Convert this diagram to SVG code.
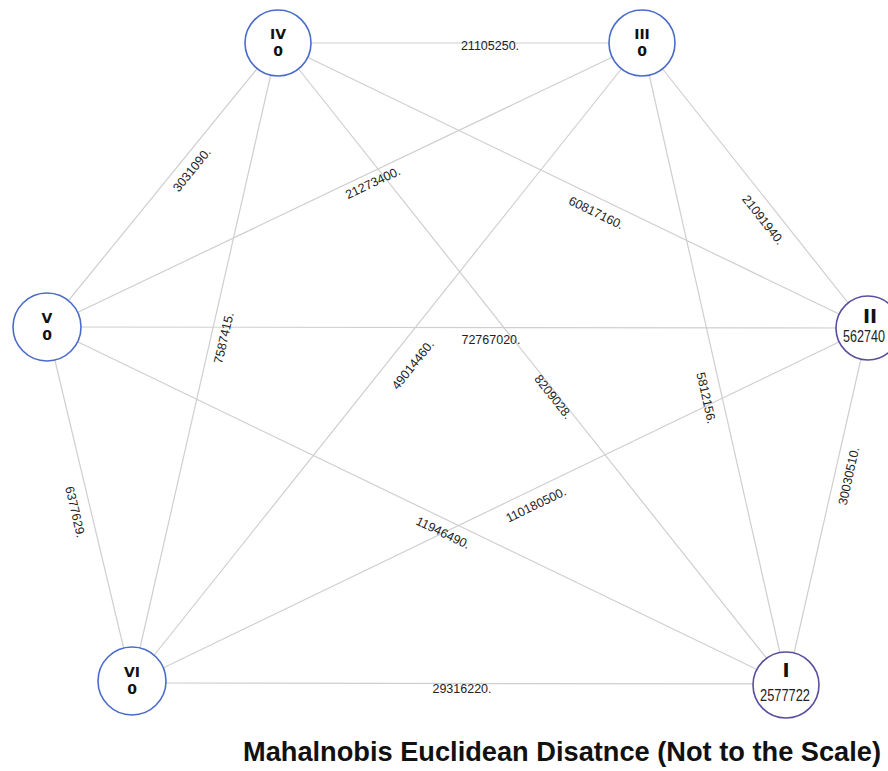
<svg xmlns="http://www.w3.org/2000/svg" width="888" height="771" viewBox="0 0 888 771">
<style>
.e{stroke:#cfcfcf;stroke-width:1.2;fill:none}
.n{fill:#fff;stroke-width:1.6}
.b{stroke:#4a6cc8}
.p{stroke:#5a4e9e}
.nt{font-family:"DejaVu Sans",sans-serif;font-weight:bold;font-size:14px;fill:#111;text-anchor:middle}
.nb{font-family:"DejaVu Sans",sans-serif;font-weight:bold;font-size:19px;fill:#111;text-anchor:middle}
.nv{font-family:"Liberation Sans",sans-serif;font-size:13px;fill:#222}
.l{font-family:"Liberation Sans",sans-serif;font-size:12.5px;fill:#222;text-anchor:middle;dominant-baseline:central}
.t{font-family:"Liberation Sans",sans-serif;font-weight:bold;font-size:24px;fill:#111}
</style>
<rect width="888" height="771" fill="#fff"/>
<g id="connectors">
<line class="e" x1="278" y1="43" x2="642" y2="43"/>
<line class="e" x1="278" y1="43" x2="47" y2="327"/>
<line class="e" x1="278" y1="43" x2="132" y2="683"/>
<line class="e" x1="278" y1="43" x2="868" y2="328"/>
<line class="e" x1="278" y1="43" x2="787" y2="684"/>
<line class="e" x1="642" y1="43" x2="47" y2="327"/>
<line class="e" x1="642" y1="43" x2="132" y2="683"/>
<line class="e" x1="642" y1="43" x2="868" y2="328"/>
<line class="e" x1="642" y1="43" x2="787" y2="684"/>
<line class="e" x1="47" y1="327" x2="868" y2="328"/>
<line class="e" x1="47" y1="327" x2="132" y2="683"/>
<line class="e" x1="47" y1="327" x2="787" y2="684"/>
<line class="e" x1="868" y1="328" x2="132" y2="683"/>
<line class="e" x1="868" y1="328" x2="787" y2="684"/>
<line class="e" x1="132" y1="683" x2="787" y2="684"/>
</g>
<g id="labels">
<text class="l" x="490" y="46">21105250.</text>
<text class="l" transform="translate(192,170) rotate(-51)">3031090.</text>
<text class="l" transform="translate(373,183) rotate(-25.5)">21273400.</text>
<text class="l" transform="translate(596,213) rotate(25.9)">60817160.</text>
<text class="l" transform="translate(763,220) rotate(51.8)">21091940.</text>
<text class="l" transform="translate(224,338) rotate(-77.1)">7587415.</text>
<text class="l" x="491" y="340">72767020.</text>
<text class="l" transform="translate(413,365) rotate(-51.4)">49014460.</text>
<text class="l" transform="translate(553,397) rotate(51.5)">8209028.</text>
<text class="l" transform="translate(706,398) rotate(77.3)">5812156.</text>
<text class="l" transform="translate(849,476) rotate(-77.5)">30030510.</text>
<text class="l" transform="translate(536,505) rotate(-25.8)">110180500.</text>
<text class="l" transform="translate(443,533) rotate(25.8)">11946490.</text>
<text class="l" transform="translate(75,512) rotate(76.6)">6377629.</text>
<text class="l" x="462" y="689">29316220.</text>
</g>
<g id="node-IV">
<circle class="n b" cx="278" cy="43" r="33"/>
<text class="nt" x="278" y="39">IV</text>
<text class="nt" x="278" y="56">0</text>
</g>
<g id="node-III">
<circle class="n b" cx="642" cy="43" r="33"/>
<text class="nt" x="642" y="39">III</text>
<text class="nt" x="642" y="56">0</text>
</g>
<g id="node-V">
<circle class="n b" cx="47" cy="327" r="34"/>
<text class="nt" x="47" y="323">V</text>
<text class="nt" x="47" y="340">0</text>
</g>
<g id="node-II">
<circle class="n p" cx="868" cy="328" r="32"/>
<text class="nb" x="870" y="323">II</text>
<text class="nv" transform="translate(843,342) scale(1,1.22)" textLength="42" lengthAdjust="spacingAndGlyphs">562740</text>
</g>
<g id="node-VI">
<circle class="n b" cx="132" cy="681" r="34"/>
<text class="nt" x="132" y="677">VI</text>
<text class="nt" x="132" y="694">0</text>
</g>
<g id="node-I">
<circle class="n p" cx="786" cy="685" r="33"/>
<text class="nb" x="786" y="677">I</text>
<text class="nv" transform="translate(760,701) scale(1,1.22)" textLength="50" lengthAdjust="spacingAndGlyphs">2577722</text>
</g>
<text class="t" transform="translate(243,761) scale(1,1.18)" textLength="638" lengthAdjust="spacingAndGlyphs">Mahalnobis Euclidean Disatnce (Not to the Scale)</text>
</svg>
